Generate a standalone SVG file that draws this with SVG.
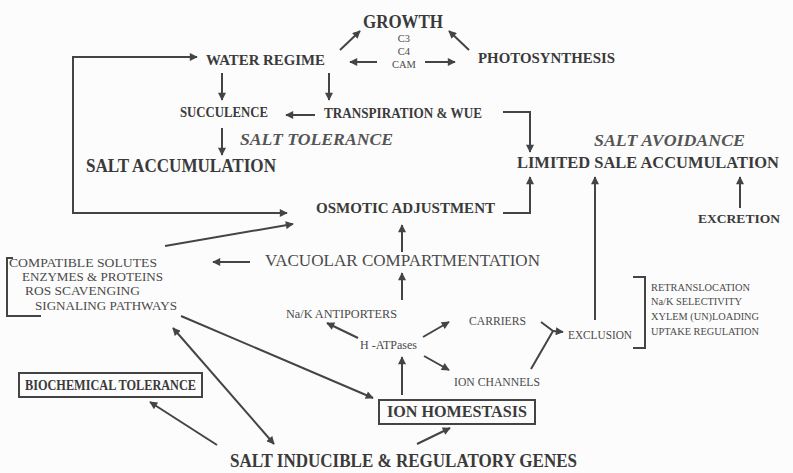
<svg xmlns="http://www.w3.org/2000/svg" width="793" height="473" viewBox="0 0 793 473">
<style>
text{font-family:"Liberation Serif","Times New Roman",serif;fill:#3a3a3a}
.b{font-weight:bold}
.bi{font-weight:bold;font-style:italic;fill:#555}
.r{fill:#4a4a4a}
.c line,.c path{stroke:#444;stroke-width:2;fill:none}
.box{fill:none;stroke:#444;stroke-width:2}
</style>
<defs>
<marker id="ah" viewBox="0 0 10 10" refX="9" refY="5" markerWidth="9" markerHeight="8" orient="auto-start-reverse" markerUnits="userSpaceOnUse"><path d="M0,0 L10,5 L0,10 z" fill="#444"/></marker>
</defs>
<rect width="793" height="473" fill="#fcfcfc"/>
<g class="c" id="connectors">
<line x1="340" y1="50" x2="360" y2="31" marker-end="url(#ah)"/>
<line x1="469" y1="50" x2="449" y2="31" marker-end="url(#ah)"/>
<line x1="377" y1="62" x2="350" y2="62" marker-end="url(#ah)"/>
<line x1="425" y1="62" x2="455" y2="62" marker-end="url(#ah)"/>
<line x1="222" y1="73" x2="222" y2="100" marker-end="url(#ah)"/>
<line x1="329" y1="73" x2="329" y2="100" marker-end="url(#ah)"/>
<line x1="315" y1="115" x2="286" y2="115" marker-end="url(#ah)"/>
<path d="M503,112 H530 V152" marker-end="url(#ah)"/>
<line x1="222" y1="128" x2="222" y2="155" marker-end="url(#ah)"/>
<path d="M197,57 H73 V213 H287" marker-start="url(#ah)" marker-end="url(#ah)"/>
<line x1="165" y1="246" x2="293" y2="224" marker-end="url(#ah)"/>
<path d="M503,213 H530 V177" marker-end="url(#ah)"/>
<line x1="402" y1="252" x2="402" y2="225" marker-end="url(#ah)"/>
<line x1="250" y1="262" x2="213" y2="262" marker-end="url(#ah)"/>
<line x1="402" y1="300" x2="402" y2="273" marker-end="url(#ah)"/>
<line x1="358" y1="338" x2="327" y2="323" marker-end="url(#ah)"/>
<line x1="423" y1="337" x2="449" y2="322" marker-end="url(#ah)"/>
<line x1="424" y1="356" x2="449" y2="370" marker-end="url(#ah)"/>
<line x1="402" y1="395" x2="402" y2="357" marker-end="url(#ah)"/>
<line x1="181" y1="316" x2="373" y2="398" marker-end="url(#ah)"/>
<line x1="173" y1="328" x2="274" y2="444" marker-start="url(#ah)" marker-end="url(#ah)"/>
<line x1="217" y1="445" x2="150" y2="402" marker-end="url(#ah)"/>
<line x1="417" y1="444" x2="450" y2="428" marker-end="url(#ah)"/>
<path d="M541,322 L553,331 M531,369 L553,331"/>
<line x1="553" y1="331" x2="563" y2="332" marker-end="url(#ah)"/>
<line x1="595" y1="320" x2="595" y2="177" marker-end="url(#ah)"/>
<line x1="740" y1="208" x2="740" y2="177" marker-end="url(#ah)"/>
<path d="M13,258 H7 V316 H41" stroke-width="1.5"/>
<path d="M633,277 H645 V348 H633" stroke-width="1.5"/>
</g>
<g id="growth"><text class="b" x="363" y="28" font-size="18" textLength="80" lengthAdjust="spacingAndGlyphs">GROWTH</text>
<text class="r" x="404" y="42" font-size="10.5" text-anchor="middle">C3</text>
<text class="r" x="404" y="55" font-size="10.5" text-anchor="middle">C4</text>
<text class="r" x="404" y="68" font-size="10.5" text-anchor="middle">CAM</text></g>
<g id="water-regime"><text class="b" x="206" y="65" font-size="15.5" textLength="119" lengthAdjust="spacingAndGlyphs">WATER REGIME</text></g>
<g id="photosynthesis"><text class="b" x="478" y="63" font-size="15.5" textLength="137" lengthAdjust="spacingAndGlyphs">PHOTOSYNTHESIS</text></g>
<g id="succulence"><text class="b" x="180" y="117" font-size="14" textLength="88" lengthAdjust="spacingAndGlyphs">SUCCULENCE</text></g>
<g id="transpiration"><text class="b" x="324" y="118" font-size="14" textLength="158" lengthAdjust="spacingAndGlyphs">TRANSPIRATION &amp; WUE</text></g>
<g id="salt-tolerance"><text class="bi" x="240" y="145" font-size="17.5" textLength="153" lengthAdjust="spacingAndGlyphs">SALT TOLERANCE</text></g>
<g id="salt-accumulation"><text class="b" x="86" y="172" font-size="18" textLength="190" lengthAdjust="spacingAndGlyphs">SALT ACCUMULATION</text></g>
<g id="salt-avoidance"><text class="bi" x="594" y="146" font-size="17.5" textLength="151" lengthAdjust="spacingAndGlyphs">SALT AVOIDANCE</text></g>
<g id="limited"><text class="b" x="517" y="168" font-size="16.5" textLength="262" lengthAdjust="spacingAndGlyphs">LIMITED SALE ACCUMULATION</text></g>
<g id="osmotic"><text class="b" x="316" y="213" font-size="15" textLength="179" lengthAdjust="spacingAndGlyphs">OSMOTIC ADJUSTMENT</text></g>
<g id="excretion"><text class="b" x="698" y="223" font-size="13" textLength="82" lengthAdjust="spacingAndGlyphs">EXCRETION</text></g>
<g id="vacuolar"><text class="r" x="265" y="266" font-size="17" textLength="275" lengthAdjust="spacingAndGlyphs">VACUOLAR COMPARTMENTATION</text></g>
<g id="biochem-list">
<text class="r" x="9" y="267" font-size="13.5" textLength="148" lengthAdjust="spacingAndGlyphs">COMPATIBLE SOLUTES</text>
<text class="r" x="22" y="281" font-size="13.5" textLength="141" lengthAdjust="spacingAndGlyphs">ENZYMES &amp; PROTEINS</text>
<text class="r" x="25" y="295" font-size="13.5" textLength="115" lengthAdjust="spacingAndGlyphs">ROS SCAVENGING</text>
<text class="r" x="35" y="310" font-size="13.5" textLength="142" lengthAdjust="spacingAndGlyphs">SIGNALING PATHWAYS</text>
</g>
<g id="antiporters"><text class="r" x="286" y="318" font-size="11.5" textLength="111" lengthAdjust="spacingAndGlyphs">Na/K ANTIPORTERS</text></g>
<g id="atpases"><text class="r" x="360" y="349" font-size="11.5" textLength="57" lengthAdjust="spacingAndGlyphs">H -ATPases</text></g>
<g id="carriers"><text class="r" x="469" y="325" font-size="11.5" textLength="57" lengthAdjust="spacingAndGlyphs">CARRIERS</text></g>
<g id="ion-channels"><text class="r" x="454" y="386" font-size="11.5" textLength="86" lengthAdjust="spacingAndGlyphs">ION CHANNELS</text></g>
<g id="exclusion"><text class="r" x="568" y="339" font-size="12.5" textLength="64" lengthAdjust="spacingAndGlyphs">EXCLUSION</text></g>
<g id="exclusion-list">
<text class="r" x="651" y="291" font-size="10.5" textLength="99" lengthAdjust="spacingAndGlyphs">RETRANSLOCATION</text>
<text class="r" x="651" y="305" font-size="10.5" textLength="91" lengthAdjust="spacingAndGlyphs">Na/K SELECTIVITY</text>
<text class="r" x="651" y="320" font-size="10.5" textLength="108" lengthAdjust="spacingAndGlyphs">XYLEM (UN)LOADING</text>
<text class="r" x="651" y="335" font-size="10.5" textLength="108" lengthAdjust="spacingAndGlyphs">UPTAKE REGULATION</text>
</g>
<g id="biochemical-tolerance"><rect class="box" x="19" y="373" width="183" height="24"/>
<text class="b" x="25" y="390" font-size="15" textLength="171" lengthAdjust="spacingAndGlyphs">BIOCHEMICAL TOLERANCE</text></g>
<g id="ion-homestasis"><rect class="box" x="379" y="400" width="156" height="24"/>
<text class="b" x="387" y="417" font-size="16" textLength="140" lengthAdjust="spacingAndGlyphs">ION HOMESTASIS</text></g>
<g id="genes"><text class="b" x="230" y="467" font-size="19" textLength="347" lengthAdjust="spacingAndGlyphs">SALT INDUCIBLE &amp; REGULATORY GENES</text></g>
</svg>
